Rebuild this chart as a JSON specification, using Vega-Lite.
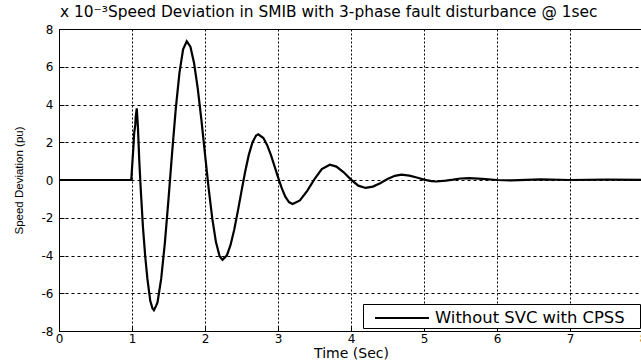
{
  "$schema": "https://vega.github.io/schema/vega-lite/v6.json",
  "width": 584,
  "height": 302,
  "autosize": {"type": "none"},
  "padding": {"left": 59, "top": 29, "right": 0, "bottom": 31},
  "background": "white",
  "title": {"text": "x 10⁻³Speed Deviation in SMIB with 3-phase fault disturbance @ 1sec", "anchor": "start", "frame": "group", "font": "DejaVu Sans", "fontSize": 15.4, "fontWeight": "normal", "color": "black", "offset": 3, "dx": 1},
  "config": {"view": {"stroke": "black", "strokeWidth": 1}},
  "data": {"values": [
    {"time": 0, "dev": 0, "series": "Without SVC with CPSS"},
    {"time": 0.5, "dev": 0, "series": "Without SVC with CPSS"},
    {"time": 0.99, "dev": 0, "series": "Without SVC with CPSS"},
    {"time": 1.0, "dev": 0.6, "series": "Without SVC with CPSS"},
    {"time": 1.02, "dev": 1.8, "series": "Without SVC with CPSS"},
    {"time": 1.03, "dev": 2.5, "series": "Without SVC with CPSS"},
    {"time": 1.045, "dev": 2.9, "series": "Without SVC with CPSS"},
    {"time": 1.05, "dev": 3.3, "series": "Without SVC with CPSS"},
    {"time": 1.065, "dev": 3.8, "series": "Without SVC with CPSS"},
    {"time": 1.08, "dev": 2.9, "series": "Without SVC with CPSS"},
    {"time": 1.10, "dev": 1.0, "series": "Without SVC with CPSS"},
    {"time": 1.12, "dev": -0.5, "series": "Without SVC with CPSS"},
    {"time": 1.15, "dev": -2.5, "series": "Without SVC with CPSS"},
    {"time": 1.18, "dev": -4.0, "series": "Without SVC with CPSS"},
    {"time": 1.21, "dev": -5.2, "series": "Without SVC with CPSS"},
    {"time": 1.25, "dev": -6.4, "series": "Without SVC with CPSS"},
    {"time": 1.28, "dev": -6.8, "series": "Without SVC with CPSS"},
    {"time": 1.30, "dev": -6.9, "series": "Without SVC with CPSS"},
    {"time": 1.33, "dev": -6.67, "series": "Without SVC with CPSS"},
    {"time": 1.35, "dev": -6.47, "series": "Without SVC with CPSS"},
    {"time": 1.40, "dev": -5.23, "series": "Without SVC with CPSS"},
    {"time": 1.45, "dev": -3.34, "series": "Without SVC with CPSS"},
    {"time": 1.50, "dev": -1.01, "series": "Without SVC with CPSS"},
    {"time": 1.55, "dev": 1.46, "series": "Without SVC with CPSS"},
    {"time": 1.60, "dev": 3.79, "series": "Without SVC with CPSS"},
    {"time": 1.65, "dev": 5.68, "series": "Without SVC with CPSS"},
    {"time": 1.70, "dev": 6.92, "series": "Without SVC with CPSS"},
    {"time": 1.75, "dev": 7.35, "series": "Without SVC with CPSS"},
    {"time": 1.80, "dev": 7.06, "series": "Without SVC with CPSS"},
    {"time": 1.85, "dev": 6.20, "series": "Without SVC with CPSS"},
    {"time": 1.90, "dev": 4.87, "series": "Without SVC with CPSS"},
    {"time": 1.95, "dev": 3.21, "series": "Without SVC with CPSS"},
    {"time": 2.00, "dev": 1.37, "series": "Without SVC with CPSS"},
    {"time": 2.05, "dev": -0.44, "series": "Without SVC with CPSS"},
    {"time": 2.10, "dev": -2.05, "series": "Without SVC with CPSS"},
    {"time": 2.15, "dev": -3.29, "series": "Without SVC with CPSS"},
    {"time": 2.20, "dev": -4.04, "series": "Without SVC with CPSS"},
    {"time": 2.24, "dev": -4.23, "series": "Without SVC with CPSS"},
    {"time": 2.30, "dev": -3.99, "series": "Without SVC with CPSS"},
    {"time": 2.35, "dev": -3.44, "series": "Without SVC with CPSS"},
    {"time": 2.40, "dev": -2.63, "series": "Without SVC with CPSS"},
    {"time": 2.45, "dev": -1.65, "series": "Without SVC with CPSS"},
    {"time": 2.50, "dev": -0.59, "series": "Without SVC with CPSS"},
    {"time": 2.55, "dev": 0.44, "series": "Without SVC with CPSS"},
    {"time": 2.60, "dev": 1.33, "series": "Without SVC with CPSS"},
    {"time": 2.65, "dev": 1.99, "series": "Without SVC with CPSS"},
    {"time": 2.70, "dev": 2.36, "series": "Without SVC with CPSS"},
    {"time": 2.73, "dev": 2.42, "series": "Without SVC with CPSS"},
    {"time": 2.80, "dev": 2.22, "series": "Without SVC with CPSS"},
    {"time": 2.85, "dev": 1.86, "series": "Without SVC with CPSS"},
    {"time": 2.90, "dev": 1.36, "series": "Without SVC with CPSS"},
    {"time": 2.95, "dev": 0.76, "series": "Without SVC with CPSS"},
    {"time": 3.00, "dev": 0.15, "series": "Without SVC with CPSS"},
    {"time": 3.05, "dev": -0.42, "series": "Without SVC with CPSS"},
    {"time": 3.10, "dev": -0.88, "series": "Without SVC with CPSS"},
    {"time": 3.15, "dev": -1.17, "series": "Without SVC with CPSS"},
    {"time": 3.20, "dev": -1.27, "series": "Without SVC with CPSS"},
    {"time": 3.30, "dev": -1.08, "series": "Without SVC with CPSS"},
    {"time": 3.40, "dev": -0.58, "series": "Without SVC with CPSS"},
    {"time": 3.50, "dev": 0.05, "series": "Without SVC with CPSS"},
    {"time": 3.60, "dev": 0.58, "series": "Without SVC with CPSS"},
    {"time": 3.71, "dev": 0.81, "series": "Without SVC with CPSS"},
    {"time": 3.80, "dev": 0.71, "series": "Without SVC with CPSS"},
    {"time": 3.90, "dev": 0.41, "series": "Without SVC with CPSS"},
    {"time": 4.00, "dev": 0.02, "series": "Without SVC with CPSS"},
    {"time": 4.10, "dev": -0.30, "series": "Without SVC with CPSS"},
    {"time": 4.20, "dev": -0.42, "series": "Without SVC with CPSS"},
    {"time": 4.30, "dev": -0.35, "series": "Without SVC with CPSS"},
    {"time": 4.40, "dev": -0.17, "series": "Without SVC with CPSS"},
    {"time": 4.50, "dev": 0.05, "series": "Without SVC with CPSS"},
    {"time": 4.60, "dev": 0.22, "series": "Without SVC with CPSS"},
    {"time": 4.69, "dev": 0.28, "series": "Without SVC with CPSS"},
    {"time": 4.80, "dev": 0.23, "series": "Without SVC with CPSS"},
    {"time": 4.90, "dev": 0.13, "series": "Without SVC with CPSS"},
    {"time": 5.00, "dev": 0.02, "series": "Without SVC with CPSS"},
    {"time": 5.10, "dev": -0.06, "series": "Without SVC with CPSS"},
    {"time": 5.17, "dev": -0.08, "series": "Without SVC with CPSS"},
    {"time": 5.30, "dev": -0.03, "series": "Without SVC with CPSS"},
    {"time": 5.40, "dev": 0.02, "series": "Without SVC with CPSS"},
    {"time": 5.50, "dev": 0.08, "series": "Without SVC with CPSS"},
    {"time": 5.62, "dev": 0.1, "series": "Without SVC with CPSS"},
    {"time": 5.80, "dev": 0.06, "series": "Without SVC with CPSS"},
    {"time": 6.00, "dev": 0.0, "series": "Without SVC with CPSS"},
    {"time": 6.20, "dev": -0.02, "series": "Without SVC with CPSS"},
    {"time": 6.60, "dev": 0.03, "series": "Without SVC with CPSS"},
    {"time": 7.00, "dev": 0.0, "series": "Without SVC with CPSS"},
    {"time": 7.50, "dev": 0.02, "series": "Without SVC with CPSS"},
    {"time": 8.00, "dev": 0.01, "series": "Without SVC with CPSS"}
  ]},
  "mark": {"type": "line", "color": "black", "strokeWidth": 2.2},
  "encoding": {
    "x": {"field": "time", "type": "quantitative",
      "scale": {"domain": [0, 8], "nice": false, "zero": false},
      "axis": {"title": "Time (Sec)", "values": [0, 1, 2, 3, 4, 5, 6, 7, 8], "tickSize": -5, "tickColor": "black", "domainColor": "black",
        "labelFont": "DejaVu Sans", "labelFontSize": 12, "labelColor": "black", "labelPadding": 7, "labelFlush": false,
        "labelExpr": "toString(datum.value)",
        "titleFont": "DejaVu Sans", "titleFontSize": 14, "titleFontWeight": "normal", "titleColor": "black", "titlePadding": 2,
        "grid": true, "gridColor": "black", "gridDash": [2, 2], "gridOpacity": 1, "gridWidth": 1}},
    "y": {"field": "dev", "type": "quantitative",
      "scale": {"domain": [-8, 8], "nice": false, "zero": false},
      "axis": {"title": "Speed Deviation (pu)", "values": [-8, -6, -4, -2, 0, 2, 4, 6, 8], "tickSize": -5, "tickColor": "black", "domainColor": "black",
        "labelFont": "DejaVu Sans", "labelFontSize": 12, "labelColor": "black", "labelPadding": 11, "labelFlush": false,
        "labelExpr": "toString(datum.value)",
        "titleFont": "Liberation Sans", "titleFontSize": 11.5, "titleFontWeight": "normal", "titleColor": "black", "titlePadding": 17,
        "grid": true, "gridColor": "black", "gridDash": [3, 3], "gridOpacity": 1, "gridWidth": 1}},
    "color": {"field": "series", "type": "nominal", "scale": {"range": ["black"]},
      "legend": {"title": " ", "titleOrient": "right", "titlePadding": 14, "titleFontSize": 2, "orient": "bottom-right", "offset": 3, "fillColor": "white", "strokeColor": "black", "padding": 1, "cornerRadius": 0,
        "symbolType": "M-0.167,0L4.333,0", "symbolSize": 576, "symbolStrokeWidth": 2, "symbolStrokeColor": "black", "symbolFillColor": "transparent",
        "labelFont": "DejaVu Sans", "labelFontSize": 16.4, "labelColor": "black", "labelOffset": 45, "labelLimit": 400}}
  }
}
